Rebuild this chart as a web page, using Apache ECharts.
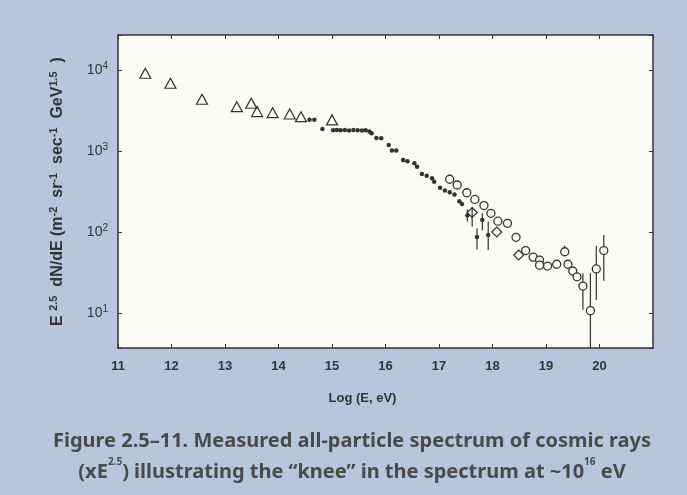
<!DOCTYPE html>
<html>
<head>
<meta charset="utf-8">
<script src="https://cdn.jsdelivr.net/npm/echarts@6.0.0/dist/echarts.min.js"></script>
<style>
  html, body { margin: 0; padding: 0; background: #b9c5dd; }
  #main { width: 687px; height: 495px; }
</style>
</head>
<body>
<div id="main"></div>
<script>
// triangles (low energy, direct measurements)
var triX = [11.51, 11.98, 12.57, 13.22, 13.49, 13.60, 13.89, 14.21, 14.42, 15.00];
var triY = [9100, 6850, 4350, 3520, 3880, 3060, 2970, 2860, 2650, 2420];

// small filled dots through the knee
var dotX = [14.58, 14.67, 14.82, 15.02, 15.09, 15.16, 15.24, 15.32, 15.40, 15.48, 15.56, 15.63, 15.70, 15.74,
            15.83, 15.92, 16.06, 16.12, 16.20, 16.33, 16.41, 16.54, 16.59, 16.68, 16.77, 16.87, 16.91,
            17.02, 17.11, 17.20, 17.29, 17.38, 17.43];
var dotY = [2420, 2420, 1870, 1800, 1820, 1800, 1810, 1790, 1810, 1800, 1790, 1800, 1740, 1660,
            1450, 1440, 1185, 1010, 1010, 775, 745, 705, 640, 518, 493, 460, 418,
            352, 325, 310, 290, 239, 221];

// filled dots with error bars
var ebX = [17.53, 17.71, 17.81, 17.92];
var ebY = [160, 87, 141, 92];
var ebLo = [135, 61, 104, 60];
var ebHi = [190, 111, 170, 135];

// open circles
var circX = [17.20, 17.34, 17.52, 17.67, 17.84, 17.97, 18.10, 18.28, 18.44, 18.62, 18.76, 18.88, 18.88,
             19.03, 19.20, 19.35, 19.41, 19.50, 19.58, 19.69, 19.83, 19.94, 20.08];
var circY = [448, 380, 305, 252, 212, 170, 136, 128, 86, 59, 49, 45, 39,
             38, 40, 57, 40, 33, 28, 21.5, 10.7, 35, 59];
// error bars on the open circles
var cbX = [19.35, 19.69, 19.83, 19.94, 20.08];
var cbLo = [57, 11, 1, 14.5, 25];
var cbHi = [68, 31, 31, 67, 92];

// open diamonds
var diaX = [17.62, 18.08, 18.49];
var diaY = [174, 100, 52];
var dbX = [17.62];
var dbLo = [117];
var dbHi = [200];

var xTicks = [11, 12, 13, 14, 15, 16, 17, 18, 19, 20];

function pairs(xs, ys) {
  return xs.map(function (x, i) { return [x, ys[i]]; });
}
function bars(xs, lo, hi) {
  return xs.map(function (x, i) { return [x, lo[i], hi[i]]; });
}

var ink = '#333333';
var plotBg = '#fcfcf7';

function renderBar(params, api) {
  var p1 = api.coord([api.value(0), api.value(1)]);
  var p2 = api.coord([api.value(0), api.value(2)]);
  return {
    type: 'line',
    shape: { x1: p1[0], y1: p1[1], x2: p2[0], y2: p2[1] },
    style: { stroke: ink, lineWidth: 1.2 }
  };
}

function powLabel(v) {
  var e = Math.round(Math.log10(v));
  if (Math.abs(Math.log10(v) - e) > 1e-6) return '';
  return '{b|10}{s|' + e + '}';
}

var chart = echarts.init(document.getElementById('main'));
chart.setOption({
  backgroundColor: '#b9c5dd',
  animation: false,
  title: {
    left: 352,
    textAlign: 'center',
    top: 426,
    padding: 0,
    text: 'Figure 2.5–11. Measured all-particle spectrum of cosmic rays\n(xE{s|2.5}) illustrating the “knee” in the spectrum at ~10{s|16} eV',
    textStyle: {
      fontFamily: 'Noto Sans',
      fontSize: 20,
      fontWeight: 'bold',
      color: '#4a4a4a',
      lineHeight: 31,
      rich: {
        s: { fontFamily: 'Noto Sans', fontSize: 10, fontWeight: 'bold', color: '#4a4a4a', verticalAlign: 'top', lineHeight: 20 }
      }
    }
  },
  grid: {
    left: 118,
    right: 34,
    top: 35,
    bottom: 147,
    show: true,
    backgroundColor: plotBg,
    borderWidth: 0
  },
  xAxis: [
    {
      type: 'value',
      min: 11,
      max: 21,
      interval: 1,
      name: 'Log (E, eV)',
      nameLocation: 'middle',
      nameGap: 44,
      nameTextStyle: {
        fontFamily: 'Liberation Sans',
        fontSize: 13,
        fontWeight: 'bold',
        color: ink,
        padding: [0, 46, 0, 0]
      },
      axisLine: { lineStyle: { color: ink, width: 1.5 } },
      axisTick: { inside: true, length: 4, lineStyle: { color: ink } },
      axisLabel: {
        margin: 12,
        fontFamily: 'Liberation Sans',
        fontSize: 13,
        fontWeight: 'bold',
        color: ink,
        showMaxLabel: false,
        formatter: function (v) { return xTicks.indexOf(v) >= 0 ? String(v) : ''; }
      },
      splitLine: { show: false }
    },
    {
      type: 'value',
      position: 'top',
      min: 11,
      max: 21,
      interval: 1,
      axisLine: { lineStyle: { color: ink, width: 1.5 } },
      axisTick: { inside: true, length: 4, lineStyle: { color: ink } },
      axisLabel: { show: false },
      splitLine: { show: false }
    }
  ],
  yAxis: [
    {
      type: 'log',
      logBase: 10,
      min: 3.7,
      max: 27000,
      name: '{n|E }{s|2.5}{n|  dN/dE (m}{s|-2}{n|  sr}{s|-1}{n|  sec}{s|-1}{n|  GeV}{s|1.5}{n|  )}',
      nameLocation: 'middle',
      nameGap: 50,
      nameRotate: 90,
      nameTextStyle: {
        rich: {
          n: { fontFamily: 'Liberation Sans', fontSize: 16, fontWeight: 'bold', color: ink, lineHeight: 20 },
          s: { fontFamily: 'Liberation Sans', fontSize: 11, fontWeight: 'bold', color: ink, lineHeight: 12, verticalAlign: 'top' }
        }
      },
      axisLine: { show: true, lineStyle: { color: ink, width: 1.5 } },
      axisTick: { show: true, inside: true, length: 4, lineStyle: { color: ink } },
      minorTick: { show: false },
      axisLabel: {
        margin: 10,
        formatter: powLabel,
        rich: {
          b: { fontFamily: 'Liberation Sans', fontSize: 14, color: ink, lineHeight: 18 },
          s: { fontFamily: 'Liberation Sans', fontSize: 10, color: ink, lineHeight: 11, verticalAlign: 'top' }
        }
      },
      splitLine: { show: false }
    },
    {
      type: 'log',
      logBase: 10,
      min: 3.7,
      max: 27000,
      position: 'right',
      axisLine: { show: true, lineStyle: { color: ink, width: 1.5 } },
      axisTick: { show: true, inside: true, length: 4, lineStyle: { color: ink } },
      axisLabel: { show: false },
      splitLine: { show: false }
    }
  ],
  series: [
    {
      type: 'custom',
      renderItem: renderBar,
      clip: true,
      encode: { x: 0, y: [1, 2] },
      data: bars(ebX, ebLo, ebHi).concat(bars(cbX, cbLo, cbHi), bars(dbX, dbLo, dbHi)),
      z: 1
    },
    {
      type: 'scatter',
      symbol: 'circle',
      symbolSize: 4.5,
      itemStyle: { color: ink, opacity: 1 },
      data: pairs(dotX, dotY).concat(pairs(ebX, ebY)),
      z: 2
    },
    {
      type: 'scatter',
      symbol: 'triangle',
      symbolSize: [11, 10],
      itemStyle: { color: 'transparent', borderColor: ink, borderWidth: 1.2, opacity: 1 },
      data: pairs(triX, triY),
      z: 3
    },
    {
      type: 'scatter',
      symbol: 'circle',
      symbolSize: 8,
      itemStyle: { color: plotBg, borderColor: ink, borderWidth: 1.3, opacity: 1 },
      data: pairs(circX, circY),
      z: 3
    },
    {
      type: 'scatter',
      symbol: 'diamond',
      symbolSize: 10,
      itemStyle: { color: 'transparent', borderColor: ink, borderWidth: 1.2, opacity: 1 },
      data: pairs(diaX, diaY),
      z: 3
    }
  ]
});
</script>
</body>
</html>
